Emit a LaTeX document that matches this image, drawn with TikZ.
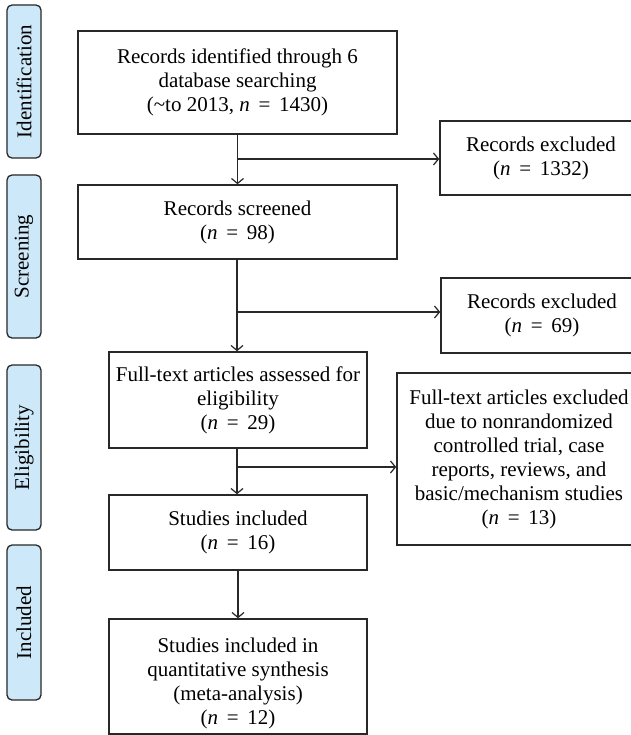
\documentclass[tikz,border=0pt]{standalone}
\usepackage{fontspec}
\setmainfont{Liberation Serif}
\usetikzlibrary{arrows.meta}
\definecolor{stagefill}{RGB}{205,232,248}
\definecolor{linegray}{RGB}{40,40,40}
\begin{document}
\begin{tikzpicture}[x=1bp,y=-1bp,
  every node/.style={font=\fontsize{21bp}{24bp}\selectfont, text=black},
  box/.style={draw=linegray, line width=1.5bp, fill=white, align=center, inner sep=0pt},
  stage/.style={draw=linegray, line width=1.3bp, fill=stagefill, rounded corners=5bp, rotate=90, minimum height=34bp, inner sep=0pt},
  arr/.style={draw=linegray, line width=1.2bp, -{Straight Barb[length=5bp,width=12bp,line width=1.2bp]}}]
\useasboundingbox (0,0) rectangle (631,735);
\clip (0,0) rectangle (631,735);
\fill[white] (0,0) rectangle (631,735);

% stage labels
\node[stage, minimum width=153bp] (s1) at (24,81.5) {Identification};
\node[stage, minimum width=163bp] (s2) at (24,256.5) {Screening};
\node[stage, minimum width=165bp] (s3) at (24,447.5) {Eligibility};
\node[stage, minimum width=155bp] (s4) at (24,622.5) {Included};

% main column
\node[box, minimum width=319bp, minimum height=103bp] (b1) at (237.5,82.5)
  {Records identified through 6\\database searching\\(\textasciitilde to 2013, \textit{n} \,=\, 1430)};
\node[box, minimum width=319bp, minimum height=74bp] (b2) at (237.5,222)
  {Records screened\\(\textit{n} \,=\, 98)};
\node[box, minimum width=258bp, minimum height=96bp] (b3) at (238,400)
  {Full-text articles assessed for\\eligibility\\(\textit{n} \,=\, 29)};
\node[box, minimum width=258bp, minimum height=75bp] (b4) at (238,532.5)
  {Studies included\\(\textit{n} \,=\, 16)};
\node[box, minimum width=258bp, minimum height=115bp] (b5) at (238,676.5) {};
\node[align=center, inner sep=0pt] (b5t) at ([yshift=-7bp]b5.center)
  {Studies included in\\quantitative synthesis\\(meta-analysis)\\(\textit{n} \,=\, 12)};

% excluded column
\node[box, minimum width=202bp, minimum height=74bp] (e1) at (541,158)
  {Records excluded\\(\textit{n} \,=\, 1332)};
\node[box, minimum width=202bp, minimum height=75bp] (e2) at (542,315.5)
  {Records excluded\\(\textit{n} \,=\, 69)};
\node[box, minimum width=244bp, minimum height=172bp] (e3) at (519,459)
  {Full-text articles excluded\\due to nonrandomized\\controlled trial, case\\reports, reviews, and\\basic/mechanism studies\\(\textit{n} \,=\, 13)};

% junctions
\coordinate (j1) at (238,159);
\coordinate (j2) at (237,312);
\coordinate (j3) at (237,467);

% connectors
\draw[arr] (b1.south) -- (b2.north);
\draw[arr] (j1) -- (e1.west |- j1);
\draw[arr] (b2.south -| j2) -- (b3.north -| j2);
\draw[arr] (j2) -- (e2.west |- j2);
\draw[arr] (b3.south -| j3) -- (b4.north -| j3);
\draw[arr] (j3) -- (e3.west |- j3);
\draw[arr] (b4.south) -- (b5.north);
\end{tikzpicture}
\end{document}
